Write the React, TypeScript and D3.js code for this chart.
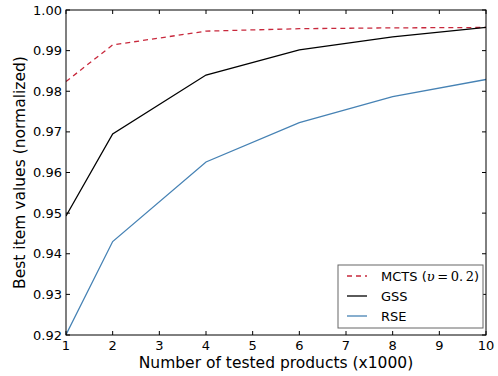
import React from "react";
import * as d3 from "d3";

const xs = [1, 2, 4, 6, 8, 10];
const mcts = [0.9824, 0.9914, 0.9948, 0.9954, 0.9956, 0.9957];
const gss = [0.9493, 0.9695, 0.984, 0.9902, 0.9934, 0.9957];
const rse = [0.9201, 0.943, 0.9626, 0.9723, 0.9787, 0.9829];
const xTicks = [1, 2, 3, 4, 5, 6, 7, 8, 9, 10];
const yTicks = [0.92, 0.93, 0.94, 0.95, 0.96, 0.97, 0.98, 0.99, 1.0];

const W = 498;
const H = 376;
const M = { left: 66, right: 12, top: 10, bottom: 41 };

export default function App() {
  const x = d3.scaleLinear().domain([1, 10]).range([M.left, W - M.right]);
  const y = d3.scaleLinear().domain([0.92, 1.0]).range([H - M.bottom, M.top]);
  const line = d3
    .line<number>()
    .x((_, i) => x(xs[i]))
    .y((d) => y(d));

  const font = "'DejaVu Sans', sans-serif";
  const x0 = M.left;
  const x1 = W - M.right;
  const y0 = H - M.bottom;
  const y1 = M.top;

  const series = [
    { name: "MCTS", data: mcts, color: "#c8283c", dash: "5,4" },
    { name: "GSS", data: gss, color: "#000000", dash: undefined },
    { name: "RSE", data: rse, color: "#4682b4", dash: undefined },
  ];

  const lx = 338;
  const ly = 265;
  return (
    <svg width={W} height={H} style={{ position: "absolute", left: 0, top: 0, background: "#fff" }}>
      <rect width={W} height={H} fill="#fff" />
      <defs>
        <clipPath id="plot">
          <rect x={x0} y={y1} width={x1 - x0} height={y0 - y1} />
        </clipPath>
      </defs>
      <g clipPath="url(#plot)">
        {series.map((s) => (
          <path
            key={s.name}
            d={line(s.data) || ""}
            fill="none"
            stroke={s.color}
            strokeWidth={1.3}
            strokeDasharray={s.dash}
          />
        ))}
      </g>
      {/* ticks inside on all four sides */}
      {xTicks.map((t) => (
        <g key={"x" + t}>
          <line x1={x(t)} x2={x(t)} y1={y0} y2={y0 - 4} stroke="#000" />
          <line x1={x(t)} x2={x(t)} y1={y1} y2={y1 + 4} stroke="#000" />
          <text x={x(t)} y={y0 + 15} textAnchor="middle" fontFamily={font} fontSize={13}>
            {t}
          </text>
        </g>
      ))}
      {yTicks.map((t) => (
        <g key={"y" + t}>
          <line x1={x0} x2={x0 + 4} y1={y(t)} y2={y(t)} stroke="#000" />
          <line x1={x1} x2={x1 - 4} y1={y(t)} y2={y(t)} stroke="#000" />
          <text x={x0 - 4} y={y(t) + 4.5} textAnchor="end" fontFamily={font} fontSize={13}>
            {t.toFixed(2)}
          </text>
        </g>
      ))}
      <rect x={x0} y={y1} width={x1 - x0} height={y0 - y1} fill="none" stroke="#000" strokeWidth={1} />
      <text x={(x0 + x1) / 2} y={368} textAnchor="middle" fontFamily={font} fontSize={15.5}>
        Number of tested products (x1000)
      </text>
      <text
        transform={`translate(25,${(y0 + y1) / 2}) rotate(-90)`}
        textAnchor="middle"
        fontFamily={font}
        fontSize={15.5}
      >
        Best item values (normalized)
      </text>
      {/* legend */}
      <rect x={lx} y={ly} width={145} height={63} fill="#fff" stroke="#666" strokeWidth={1} />
      {series.map((s, i) => (
        <g key={"lg" + s.name}>
          <line
            x1={lx + 9}
            x2={lx + 29}
            y1={ly + 11 + i * 20}
            y2={ly + 11 + i * 20}
            stroke={s.color}
            strokeWidth={1.3}
            strokeDasharray={s.dash}
          />
          <text x={lx + 43} y={ly + 16 + i * 20} fontFamily={font} fontSize={13}>
            {s.name}
            {i === 0 ? (
              <tspan>
                {" ("}
                <tspan fontFamily="'DejaVu Serif', serif" fontStyle="italic">υ</tspan>
                <tspan fontFamily="'DejaVu Serif', serif">{"\u2009=\u20090.\u20092"}</tspan>
                {")"}
              </tspan>
            ) : null}
          </text>
        </g>
      ))}
    </svg>
  );
}
